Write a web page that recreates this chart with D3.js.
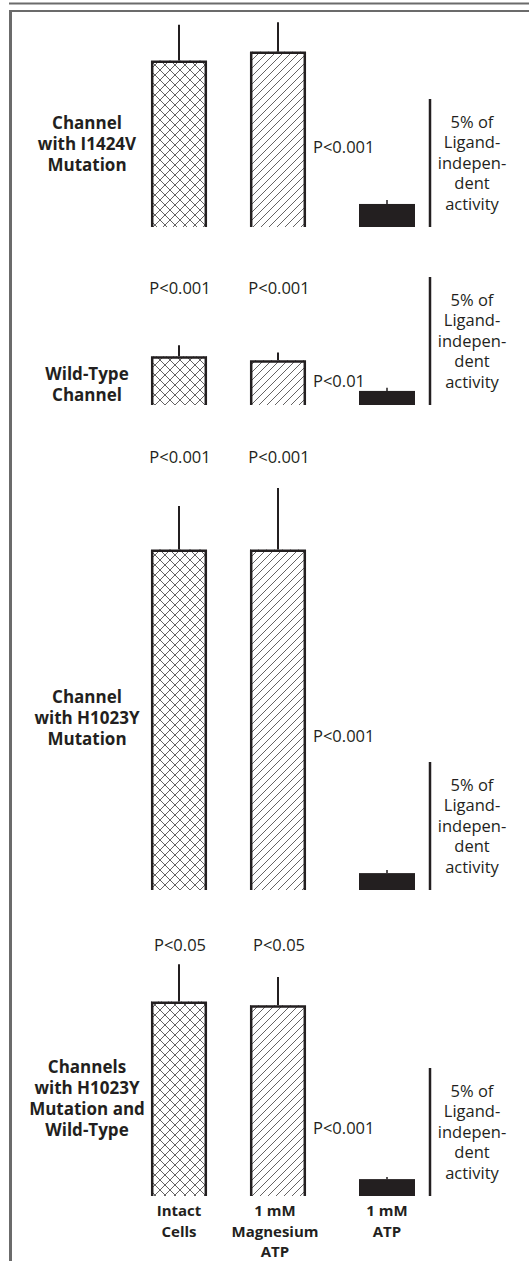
<!DOCTYPE html>
<meta charset="utf-8">
<style>
body { margin: 0; background: #fff; }
svg text { font-family: "Open Sans", sans-serif; fill: #231f20; }
.grp { font-weight: 700; font-size: 17px; }
.cond { font-weight: 700; font-size: 15px; }
.pval, .scaletxt { font-size: 16.5px; }
</style>
<script src="https://d3js.org/d3.v7.min.js"></script>
<body>
<div id="chart"></div>
<script>
// conditions (x categories)
var conditions = ["Intact Cells", "1 mM Magnesium ATP", "1 mM ATP"];
var conditionLines = [["Intact", "Cells"], ["1 mM", "Magnesium", "ATP"], ["1 mM", "ATP"]];

// channel groups, one panel each
var groupLines = [
  ["Channel", "with I1424V", "Mutation"],
  ["Wild-Type", "Channel"],
  ["Channel", "with H1023Y", "Mutation"],
  ["Channels", "with H1023Y", "Mutation and", "Wild-Type"]
];

// mean activity, in % of ligand-independent activity
var means = [
  [6.5, 6.85, 0.9],
  [1.9, 1.75, 0.55],
  [13.3, 13.3, 0.66],
  [7.6, 7.45, 0.66]
];
// upper error (SE)
var errUp = [
  [1.4, 1.15, 0.15],
  [0.43, 0.3, 0.12],
  [1.7, 2.4, 0.12],
  [1.45, 1.1, 0.08]
];

// P values
var pTop = [null, "P<0.001", "P<0.001", "P<0.05"];
var pSide = ["P<0.001", "P<0.01", "P<0.001", "P<0.001"];

var scaleBarValue = 5;
var scaleBarLabel = ["5% of", "Ligand-", "indepen-", "dent", "activity"];

// ---------- layout ----------
var W = 529, H = 1261;
var baselines = [227, 405, 890, 1196];
var pxPerUnit = 25.6;
var pTopAt = [null, 4.55, 16.9, 9.8];      // in data units above baseline
var pSideAt = [3.1, 0.9, 6.0, 2.65];
var groupMid = [3.25, 0.8, 6.7, 3.8];
var barW = 56;

var svg = d3.select("#chart").append("svg")
  .attr("width", W)
  .attr("height", H);

// patterns
var defs = svg.append("defs");
defs.append("pattern")
  .attr("id", "xhatch")
  .attr("patternUnits", "userSpaceOnUse")
  .attr("width", 10).attr("height", 10)
  .append("path")
    .attr("d", "M0,0L10,10M10,0L0,10")
    .attr("stroke", "#231f20")
    .attr("stroke-width", 0.7)
    .attr("fill", "none");
defs.append("pattern")
  .attr("id", "hatch")
  .attr("patternUnits", "userSpaceOnUse")
  .attr("width", 8).attr("height", 8)
  .append("path")
    .attr("d", "M-2,2L2,-2M0,8L8,0M6,10L10,6")
    .attr("stroke", "#231f20")
    .attr("stroke-width", 0.7)
    .attr("fill", "none");
var fills = ["url(#xhatch)", "url(#hatch)", "#231f20"];

// frame
svg.append("line")
  .attr("x1", 9).attr("x2", W).attr("y1", 3.5).attr("y2", 3.5)
  .attr("stroke", "#6b6b6b").attr("stroke-width", 2);
svg.append("line")
  .attr("x1", 9).attr("x2", W).attr("y1", 11).attr("y2", 11)
  .attr("stroke", "#6b6b6b").attr("stroke-width", 2);
svg.append("line")
  .attr("x1", 10.5).attr("x2", 10.5).attr("y1", 10).attr("y2", H)
  .attr("stroke", "#6b6b6b").attr("stroke-width", 3);

var x = d3.scaleOrdinal()
  .domain(conditions)
  .range([179, 278, 387]);

groupLines.forEach(function(lines, gi) {
  var base = baselines[gi];
  var y = d3.scaleLinear()
    .domain([0, scaleBarValue])
    .range([base, base - scaleBarValue * pxPerUnit]);
  var g = svg.append("g");

  var rows = conditions.map(function(c, ci) {
    return {cond: c, i: ci, mean: means[gi][ci], err: errUp[gi][ci]};
  });

  // bars
  g.selectAll("rect.bar").data(rows).enter().append("rect")
    .attr("class", "bar")
    .attr("x", function(d) { return x(d.cond) - barW / 2; })
    .attr("width", barW)
    .attr("y", function(d) { return y(d.mean); })
    .attr("height", function(d) { return y(0) - y(d.mean); })
    .attr("fill", function(d) { return fills[d.i]; });

  // outlines (no bottom edge)
  g.selectAll("path.outline").data(rows.filter(function(d) { return d.i < 2; }))
    .enter().append("path")
    .attr("class", "outline")
    .attr("d", function(d) {
      var x0 = x(d.cond) - barW / 2 + 1.2, x1 = x(d.cond) + barW / 2 - 1.2, yt = y(d.mean) + 1.2;
      return "M" + x0 + "," + y(0) + "L" + x0 + "," + yt + "L" + x1 + "," + yt + "L" + x1 + "," + y(0);
    })
    .attr("fill", "none")
    .attr("stroke", "#231f20")
    .attr("stroke-width", 2.5);

  // error bars
  g.selectAll("line.err").data(rows).enter().append("line")
    .attr("class", "err")
    .attr("x1", function(d) { return x(d.cond); })
    .attr("x2", function(d) { return x(d.cond); })
    .attr("y1", function(d) { return y(d.mean); })
    .attr("y2", function(d) { return y(d.mean + d.err); })
    .attr("stroke", "#231f20")
    .attr("stroke-width", function(d) { return d.i < 2 ? 2 : 1.5; });

  // scale bar
  g.append("line")
    .attr("x1", 430).attr("x2", 430)
    .attr("y1", y(0)).attr("y2", y(scaleBarValue))
    .attr("stroke", "#231f20")
    .attr("stroke-width", 2.5);
  var st = g.append("text")
    .attr("class", "scaletxt")
    .attr("text-anchor", "middle")
    .attr("y", y(scaleBarValue / 2) + 5.5);
  scaleBarLabel.forEach(function(t, k) {
    st.append("tspan")
      .attr("x", 472)
      .attr("dy", k === 0 ? -2 * 20.5 : 20.5)
      .text(t);
  });

  // group label
  var gt = g.append("text")
    .attr("class", "grp")
    .attr("text-anchor", "middle")
    .attr("y", y(groupMid[gi]) + 6);
  lines.forEach(function(t, k) {
    gt.append("tspan")
      .attr("x", 87)
      .attr("dy", k === 0 ? -(lines.length - 1) / 2 * 21 : 21)
      .text(t);
  });

  // P values
  if (pTop[gi]) {
    g.selectAll("text.ptop").data(rows.slice(0, 2)).enter().append("text")
      .attr("class", "pval ptop")
      .attr("text-anchor", "middle")
      .attr("x", function(d) { return x(d.cond) + 1; })
      .attr("y", y(pTopAt[gi]) + 5.5)
      .text(pTop[gi]);
  }
  g.append("text")
    .attr("class", "pval")
    .attr("x", 313)
    .attr("y", y(pSideAt[gi]) + 5.5)
    .text(pSide[gi]);
});

// condition labels at the bottom
conditions.forEach(function(c, ci) {
  var t = svg.append("text")
    .attr("class", "cond")
    .attr("text-anchor", "middle")
    .attr("y", baselines[3] + 20);
  conditionLines[ci].forEach(function(s, k) {
    t.append("tspan")
      .attr("x", x(c) - (ci === 1 ? 3 : 0))
      .attr("dy", k === 0 ? 0 : 20.5)
      .text(s);
  });
});
</script>
</body>
